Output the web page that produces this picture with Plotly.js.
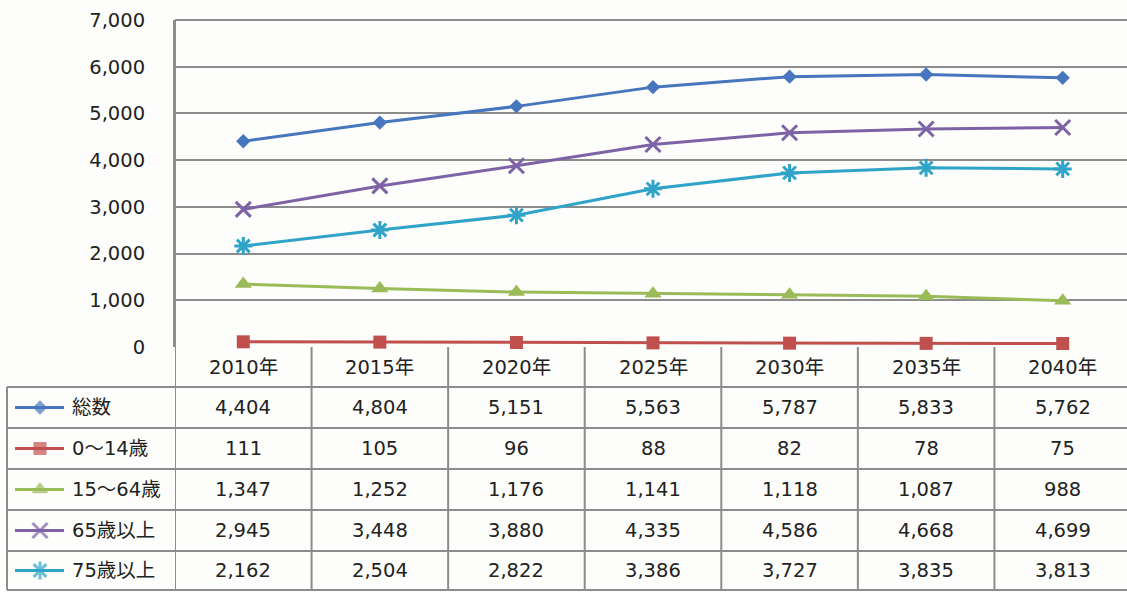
<!DOCTYPE html>
<html><head><meta charset="utf-8">
<script src="https://cdn.plot.ly/plotly-3.0.1.min.js"></script>
<style>html,body{margin:0;padding:0;overflow:hidden;background:#fdfdfb;}</style>
</head><body><div id="chart"></div>
<script>
// ---- data ----
const years = ['2010年','2015年','2020年','2025年','2030年','2035年','2040年'];
const seriesNames = ['総数','0～14歳','15～64歳','65歳以上','75歳以上'];
const total    = [4404,4804,5151,5563,5787,5833,5762];
const age0_14  = [111,105,96,88,82,78,75];
const age15_64 = [1347,1252,1176,1141,1118,1087,988];
const age65    = [2945,3448,3880,4335,4586,4668,4699];
const age75    = [2162,2504,2822,3386,3727,3835,3813];
const yTicks   = [0,1000,2000,3000,4000,5000,6000,7000];

// ---- styles ----
const W = 1131, H = 592;
const plotL = 175, plotT = 20, plotB = 347;
const rowLines = [387, 428, 469, 510, 551, 590];
const tableLeft = 7;
const gridCol = '#8c8c8c';
const txtCol = '#222';
const FONT = 'DejaVu Sans, Noto Sans CJK JP, sans-serif';
const FS = 19.5;
const styles = [
  {color:'#4676BD', symbol:'diamond', size:11, lw:0},
  {color:'#C0504D', symbol:'square', size:13, lw:0},
  {color:'#9BBB59', symbol:'triangle-up', size:15, lw:0},
  {color:'#7D63A6', symbol:'x-thin-open', size:15, lw:3},
  {color:'#2FA4C8', symbol:'asterisk-open', size:15, lw:3}
];
const allSeries = [total, age0_14, age15_64, age65, age75];

const px2x = p => p / W;
const py2y = p => 1 - p / H;

const traces = [];
allSeries.forEach((vals, i) => {
  const s = styles[i];
  traces.push({
    type:'scatter', mode:'lines+markers', x: years, y: vals, name: seriesNames[i],
    xaxis:'x', yaxis:'y', cliponaxis:false, showlegend:false, hoverinfo:'skip',
    line:{color:s.color, width:3},
    marker:{symbol:s.symbol, size:s.size, color:s.color, line:{color:s.color, width:s.lw}}
  });
  // legend key in table's first column (helper pixel axes)
  const rowY = (rowLines[i] + rowLines[i+1]) / 2;
  traces.push({
    type:'scatter', mode:'lines+markers', x:[15,40,64], y:[rowY,rowY,rowY],
    xaxis:'x2', yaxis:'y2', cliponaxis:false, showlegend:false, hoverinfo:'skip',
    line:{color:s.color, width:3},
    marker:{symbol:s.symbol, size:[0,s.size,0], color:s.color, line:{color:s.color, width:[0,s.lw,0]}}
  });
});

const shapes = [];
// top gridline (range edge)
shapes.push({type:'line', xref:'paper', yref:'paper', x0:px2x(plotL), x1:1, y0:py2y(plotT), y1:py2y(plotT),
  line:{color:gridCol, width:2}, layer:'above'});
// horizontal table lines
rowLines.forEach(py => shapes.push({type:'line', xref:'paper', yref:'paper',
  x0:px2x(tableLeft), x1:1, y0:py2y(py), y1:py2y(py), line:{color:gridCol, width:2}}));
// left border
shapes.push({type:'line', xref:'paper', yref:'paper', x0:px2x(tableLeft), x1:px2x(tableLeft),
  y0:py2y(rowLines[0]), y1:py2y(rowLines[rowLines.length-1]), line:{color:gridCol, width:2}});
// column separators
for (let i = 0; i <= years.length; i++) {
  shapes.push({type:'line', xref:'x', yref:'paper', x0:i-0.5, x1:i-0.5,
    y0: i===0 ? py2y(plotT) : py2y(plotB), y1:py2y(rowLines[rowLines.length-1]),
    line:{color:gridCol, width:2}});
}

const annotations = [];
allSeries.forEach((vals, i) => {
  const rowY = (rowLines[i] + rowLines[i+1]) / 2;
  annotations.push({xref:'paper', yref:'paper', x:px2x(70), y:py2y(rowY), xanchor:'left', yanchor:'middle',
    text:seriesNames[i], showarrow:false, font:{size:FS, color:txtCol, family:FONT}});
  vals.forEach((v, j) => annotations.push({xref:'x', yref:'paper', x:j, y:py2y(rowY),
    xanchor:'center', yanchor:'middle', showarrow:false,
    text:v.toLocaleString('en-US'), font:{size:FS, color:txtCol, family:FONT}}));
});
// header row
years.forEach((yr, j) => annotations.push({xref:'x', yref:'paper', x:j, y:py2y((plotB+rowLines[0])/2),
  xanchor:'center', yanchor:'middle', showarrow:false, text:yr, font:{size:FS, color:txtCol, family:FONT}}));

const layout = {
  width: W, height: H,
  margin:{l:0, r:0, t:0, b:0},
  paper_bgcolor:'#fdfdfb', plot_bgcolor:'rgba(0,0,0,0)',
  font:{family:FONT, size:FS, color:txtCol},
  showlegend:false,
  xaxis:{domain:[px2x(plotL),1], type:'category', range:[-0.5, years.length-0.5],
    showgrid:false, zeroline:false, showline:false, showticklabels:false, ticks:'', fixedrange:true},
  yaxis:{domain:[py2y(plotB), py2y(plotT)], range:[0,7000], tickvals:yTicks,
    ticktext: yTicks.map(v => v.toLocaleString('en-US')),
    showgrid:true, gridcolor:gridCol, gridwidth:2, zeroline:false,
    showline:true, linecolor:gridCol, linewidth:2,
    ticks:'', ticklabelstandoff:24, tickfont:{size:FS, color:txtCol, family:FONT}, fixedrange:true},
  xaxis2:{domain:[0, px2x(plotL)], range:[0, plotL], visible:false, anchor:'y2', fixedrange:true},
  yaxis2:{domain:[0,1], range:[H, 0], visible:false, anchor:'x2', fixedrange:true},
  shapes, annotations
};
Plotly.newPlot('chart', traces, layout, {displayModeBar:false, staticPlot:true});
</script></body></html>
